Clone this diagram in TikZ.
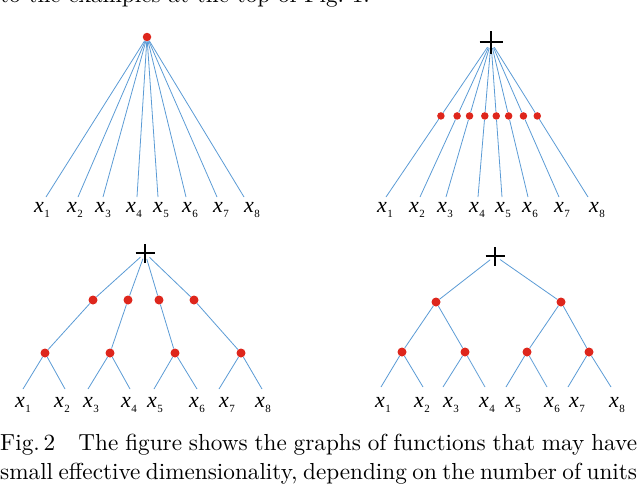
\documentclass[tikz,border=0pt]{standalone}
\usepackage{fontspec}
\usetikzlibrary{calc}
\newfontfamily\labfont{Liberation Serif}
\definecolor{linkblue}{RGB}{91,155,213}
\definecolor{nodered}{RGB}{222,38,28}
\newcommand{\xv}[1]{{\itshape x}\kern0.6pt\raisebox{-5pt}{\fontsize{11}{11}\selectfont #1}}
\newcommand{\crossmark}[2]{\draw[cross] ([xshift=-#2]#1.center) -- ([xshift=#2]#1.center)
  ([yshift=-#2]#1.center) -- ([yshift=#2]#1.center);}
\newcommand{\capline}[1]{\scalebox{2.32}{\spaceskip=0.22em plus 1em minus 0.05em
  \xspaceskip=\spaceskip\makebox[274.5pt][s]{#1}}}

\begin{document}
\begin{tikzpicture}[x=1pt, y=-1pt,
  edge/.style={draw=linkblue, line width=0.8pt},
  dot/.style={circle, fill=nodered, inner sep=0pt, minimum size=9pt},
  smalldot/.style={dot, minimum size=7.5pt},
  sum/.style={circle, inner sep=0pt, minimum size=12pt},
  cross/.style={line width=1.6pt, black},
  xlab/.style={anchor=base, inner sep=0pt, font=\labfont\fontsize{22}{22}\selectfont},
  capt/.style={anchor=base west, inner sep=0pt, font=\fontsize{10}{12}\selectfont}
]
  \useasboundingbox (0,0) rectangle (640,488);
  \clip (0,0) rectangle (640,488);

  % end of the text above
  \node[capt] (prev) at (0,2) {\scalebox{2.32}{to the examples at the top of Fig.~1.}};

  % Top left: one unit
  \node[dot, minimum size=8.5pt] (r1) at (147,37) {};
  \foreach \i/\ex/\lx in {1/46/42, 2/78/75, 3/103/103, 4/137/134,
                          5/158/161, 6/186/190, 7/217/221, 8/244/252} {
    \coordinate (a\i) at (\ex,197);
    \node[xlab] (la\i) at (\lx,212) {\xv{\i}};
    \draw[edge] (r1) -- (a\i);
  }

  % Top right: sum of one-variable units
  \node[sum] (s2) at (491,42) {};
  \foreach \i/\ex/\lx in {1/386/385, 2/420/417, 3/446/445, 4/478/477,
                          5/502/503, 6/528/530, 7/559/562, 8/588/597} {
    \coordinate (b\i) at (\ex,197);
    \node[smalldot] (bm\i) at ($(s2)!0.477!(b\i)$) {};
    \node[xlab] (lb\i) at (\lx,212) {\xv{\i}};
    \draw[edge] (s2) -- (bm\i) -- (b\i);
  }
  \crossmark{s2}{11.5pt}

  % Bottom left: sum of two-level units
  \node[sum] (s3) at (145,253) {};
  \foreach \i/\ux/\lx in {1/93/45, 2/128/110, 3/159/175, 4/194/241} {
    \node[dot] (c\i) at (\ux,300) {};
    \node[dot] (d\i) at (\lx,353) {};
    \draw[edge] (s3) -- (c\i) -- (d\i);
  }
  \foreach \i/\ex/\lx/\p in {1/23/23/1, 2/65/62/1, 3/88/91/2, 4/130/129/2,
                             5/154/155/3, 6/197/197/3, 7/219/227/4, 8/262/263/4} {
    \coordinate (e\i) at (\ex,389);
    \node[xlab] (le\i) at (\lx,407) {\xv{\i}};
    \draw[edge] (d\p) -- (e\i);
  }
  \crossmark{s3}{9.5pt}

  % Bottom right: binary tree
  \node[sum] (s4) at (495,256) {};
  \node[dot] (f1) at (436,302) {};
  \node[dot] (f2) at (561,302) {};
  \draw[edge] (s4) -- (f1);
  \draw[edge] (s4) -- (f2);
  \foreach \i/\gx/\p in {1/402/1, 2/465/1, 3/527/2, 4/589/2} {
    \node[dot] (g\i) at (\gx,352) {};
    \draw[edge] (f\p) -- (g\i);
  }
  \foreach \i/\ex/\lx in {1/381/383, 2/423/422, 3/443/451, 4/485/487,
                          5/506/513, 6/547/552, 7/568/577, 8/611/617} {
    \pgfmathtruncatemacro{\p}{(\i+1)/2}
    \coordinate (h\i) at (\ex,387);
    \node[xlab] (lh\i) at (\lx,407) {\xv{\i}};
    \draw[edge] (g\p) -- (h\i);
  }
  \crossmark{s4}{9.5pt}

  % Caption
  \node[capt] (cap1) at (0,450.5)
    {\capline{Fig.\,2\quad The figure shows the graphs of functions that may have}};
  \node[capt] (cap2) at (0,479)
    {\capline{small effective dimensionality, depending on the number of units}};
\end{tikzpicture}
\end{document}
